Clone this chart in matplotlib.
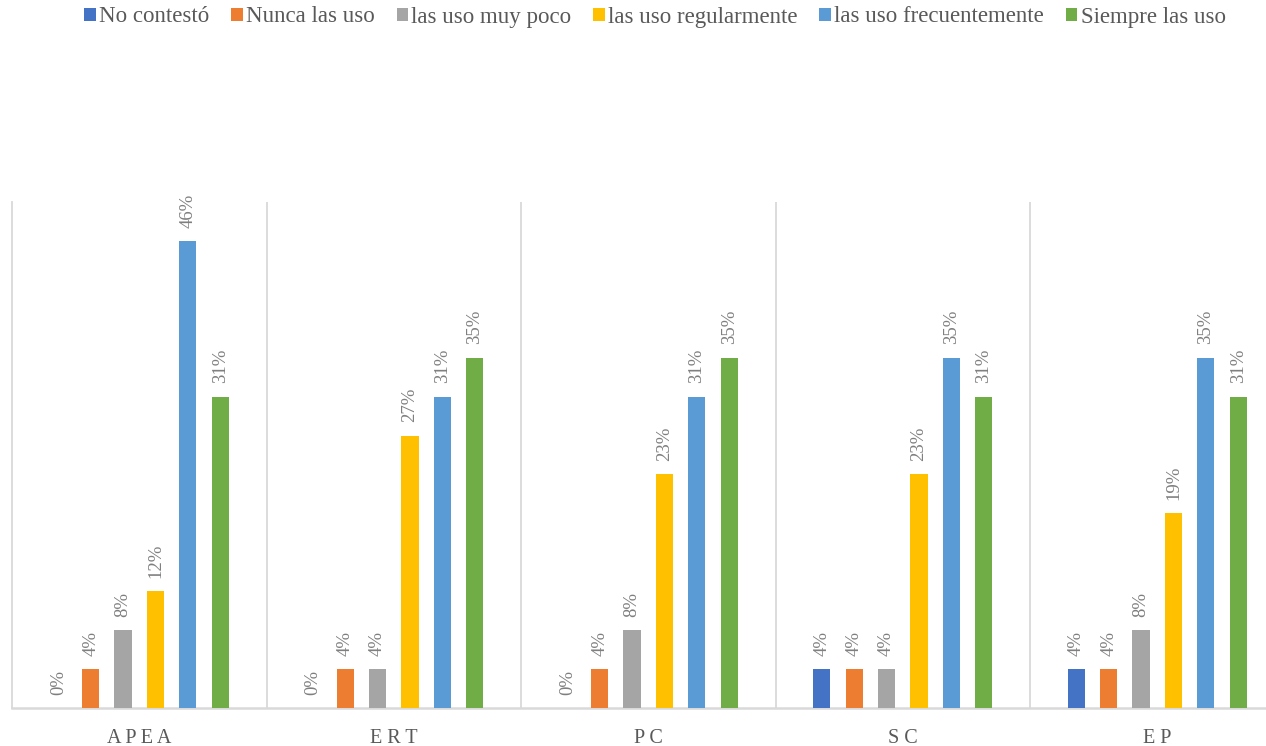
import numpy as np
import matplotlib.pyplot as plt

# respuestas por categoria (porcentaje, n = 26)
categories = ['APEA', 'ERT', 'PC', 'SC', 'EP']
series = ['No contestó', 'Nunca las uso', 'las uso muy poco',
          'las uso regularmente', 'las uso frecuentemente', 'Siempre las uso']
no_contesto = [0.0, 0.0, 0.0, 3.85, 3.85]
nunca = [3.85, 3.85, 3.85, 3.85, 3.85]
muy_poco = [7.69, 3.85, 7.69, 3.85, 7.69]
regularmente = [11.54, 26.92, 23.08, 23.08, 19.23]
frecuentemente = [46.15, 30.77, 30.77, 34.62, 34.62]
siempre = [30.77, 34.62, 34.62, 30.77, 30.77]
colors = ['#4472C4', '#ED7D31', '#A5A5A5', '#FFC000', '#5B9BD5', '#70AD47']

values = [no_contesto, nunca, muy_poco, regularmente, frecuentemente, siempre]

plt.rcParams['font.family'] = ['Liberation Serif', 'DejaVu Serif']

W, H = 1266, 746
fig = plt.figure(figsize=(W / 100, H / 100), dpi=100)
# plot area runs a bit past the right edge like the original
ax = fig.add_axes([12 / W, 38 / H, 1272.5 / W, 506 / H])

x = np.arange(len(categories))
step = 0.1273
width = 0.068
for k, (name, vals) in enumerate(zip(series, values)):
    pos = x + (k - 2.5) * step
    ax.bar(pos, vals, width, color=colors[k], label=name, zorder=3)
    for p, v in zip(pos, vals):
        ax.text(p, v + 1.3, '%d%%' % round(v), rotation=90, ha='center',
                va='bottom', fontsize=13.5, color='#7f7f7f')

ax.set_xlim(-0.5, len(categories) - 0.5)
ax.set_ylim(0, 50)
ax.set_yticks([])
for sep in np.arange(0.5, len(categories) - 0.5, 1):
    ax.axvline(sep, color='#d9d9d9', lw=1.3, zorder=1)
for s in ['top', 'right']:
    ax.spines[s].set_visible(False)
ax.spines['left'].set_color('#d9d9d9')
ax.spines['left'].set_linewidth(1.3)
ax.spines['bottom'].set_color('#d9d9d9')
ax.spines['bottom'].set_linewidth(1.8)

ax.set_xticks(x)
ax.set_xticklabels([' '.join(c) for c in categories], fontsize=14.5,
                   color='#595959')
ax.tick_params(axis='x', length=0, pad=15)

fig.legend(loc='center', bbox_to_anchor=(655 / W, 1 - 17 / H), ncol=6,
           frameon=False, fontsize=16.5, labelcolor='#595959',
           handlelength=0.5, handleheight=0.5, handletextpad=0.15,
           columnspacing=0.95)

fig.savefig('out.png', dpi=100)
